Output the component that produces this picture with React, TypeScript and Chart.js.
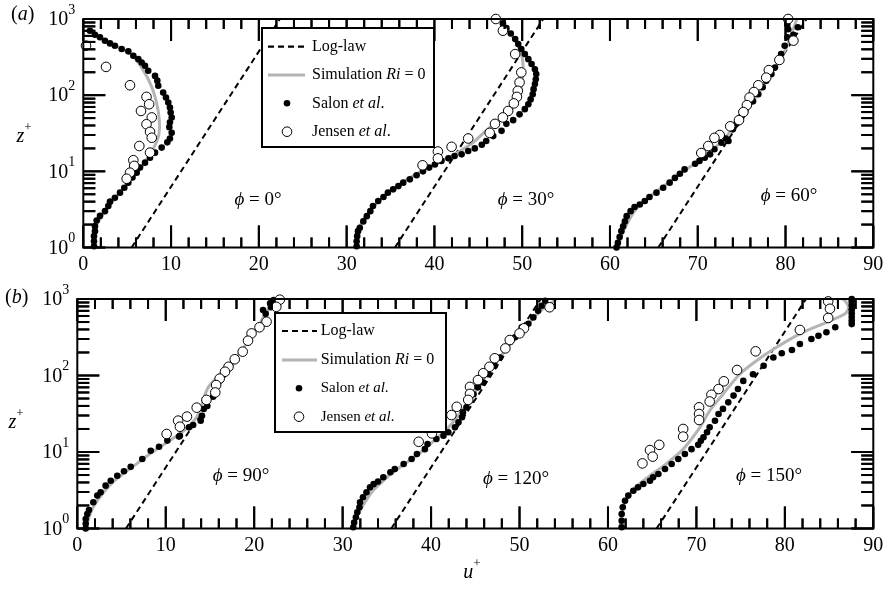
import React, { useEffect, useRef } from "react";
import { Chart, registerables } from "chart.js";
Chart.register(...registerables);

const FONT = '"Liberation Serif", "Times New Roman", serif';
const GRAY = "#b4b4b4";
const TICK_COLOR = "#000000";

// ---------- tick values ----------
const xMajorTicks = [0, 10, 20, 30, 40, 50, 60, 70, 80, 90];
const xMinorTicks = [2, 4, 6, 8, 12, 14, 16, 18, 22, 24, 26, 28, 32, 34, 36, 38, 42, 44, 46, 48, 52, 54, 56, 58, 62, 64, 66, 68, 72, 74, 76, 78, 82, 84, 86, 88];
const yDecadeExponents = [0, 1, 2, 3];
const yMinorMultipliers = [2, 3, 4, 5, 6, 7, 8, 9];

// ---------- log-law (straight line on semi-log axes) ----------
const logLawZ = [1, 1000];
const logLawU0 = [5.5, 22.4];
const logLawU30 = [35.5, 52.4];
const logLawU60 = [65.5, 82.4];

// ---------- panel (a), phi = 0 ----------
const a0SalonZ = [702, 620, 575, 518, 478, 445, 403, 376, 329, 297, 269, 243, 209, 179, 155, 133, 108, 93, 80, 69, 59, 51, 44, 38, 32, 27, 24, 20.5, 17.6, 15.1, 13, 11.2, 9.6, 8.3, 7.1, 6.1, 5.25, 4.5, 4.0, 3.5, 3.0, 2.6, 2.26, 1.9, 1.64, 1.41, 1.21, 1.04];
const a0SalonU = [0.76, 1.33, 1.9, 2.47, 3.04, 3.6, 4.37, 5.13, 5.7, 6.27, 6.65, 7.03, 7.4, 8.17, 8.43, 8.54, 9.1, 9.42, 9.68, 9.87, 9.95, 10.07, 9.87, 9.8, 10.07, 9.87, 9.57, 8.93, 8.17, 7.6, 7.03, 6.46, 6.08, 5.6, 5.13, 4.67, 4.18, 3.6, 3.04, 2.85, 2.47, 1.9, 1.52, 1.33, 1.33, 1.22, 1.22, 1.22];
const a0JensenZ = [446, 235, 135, 95, 76, 62, 51, 41.5, 33, 27.6, 21.5, 17.6, 14, 11.8, 9.6, 8.0];
const a0JensenU = [0.31, 2.59, 5.32, 7.2, 7.5, 6.57, 7.8, 7.2, 7.6, 7.8, 6.38, 7.6, 5.7, 5.8, 5.32, 4.94];
const a0SimZ = [1.0, 1.3, 1.8, 3, 5.3, 9.6, 13, 17, 22, 31, 47, 78, 129, 213, 320, 400, 480, 600, 700];
const a0SimU = [1.2, 1.25, 1.35, 2.5, 4.2, 6.1, 7.0, 7.6, 8.17, 8.62, 8.66, 8.36, 7.79, 6.83, 5.7, 4.5, 3.0, 1.6, 0.8];

// ---------- panel (a), phi = 30 ----------
const a30SalonZ = [1.04, 1.21, 1.41, 1.64, 1.82, 2.2, 2.58, 3.0, 3.5, 4.07, 4.6, 5.25, 5.8, 6.4, 7.1, 7.85, 8.9, 10, 11.2, 12.3, 13.7, 14.8, 15.9, 16.7, 18.5, 20, 22.3, 25, 29, 34, 42, 47, 56, 65.5, 76, 88, 103, 120, 140, 162, 189, 219, 257, 297, 346, 403, 468, 545, 646, 760, 875];
const a30SalonU = [31.14, 31.14, 31.2, 31.3, 31.5, 31.9, 32.3, 32.7, 33.0, 33.6, 34.2, 34.7, 35.3, 35.9, 36.45, 37.2, 37.97, 38.7, 39.4, 40.06, 40.8, 41.6, 42.3, 43.1, 43.85, 44.6, 45.4, 45.9, 46.7, 47.65, 48.2, 48.97, 49.7, 50.3, 50.7, 50.96, 51.2, 51.3, 51.45, 51.55, 51.6, 51.45, 51.07, 50.7, 50.3, 49.9, 49.55, 49.2, 48.7, 48.2, 47.8];
const a30JensenZ = [1000, 702, 346, 199, 147, 114, 95, 78, 62, 51, 42, 32, 27, 21, 18.2, 14.8, 12];
const a30JensenU = [47.0, 47.8, 49.2, 49.9, 49.7, 49.5, 49.4, 49.05, 48.4, 47.8, 46.9, 46.3, 43.85, 41.96, 40.4, 40.4, 38.65];
const a30SimZ = [1, 1.5, 2, 3, 5, 7, 10, 13, 16, 21, 25, 32, 40, 50, 70, 100, 150, 250, 350, 500, 700, 900];
const a30SimU = [31.1, 31.3, 31.6, 32.6, 34.5, 36.2, 38.5, 40.4, 42.0, 43.7, 44.6, 45.6, 46.6, 47.8, 49.0, 49.7, 50.0, 50.1, 49.9, 49.3, 48.5, 47.8];

// ---------- panel (a), phi = 60 ----------
const a60SalonZ = [1.0, 1.15, 1.37, 1.64, 1.9, 2.2, 2.58, 3.0, 3.4, 3.67, 4.07, 4.6, 5.25, 6.1, 7.1, 8.2, 9.3, 10.6, 12.6, 13.7, 15.1, 16.7, 19.5, 23.7, 25, 27, 35.6, 42, 53, 62, 72, 83, 103, 127, 155, 189, 230, 280, 346, 446, 575, 620, 733, 780, 850];
const a60SalonU = [60.75, 60.9, 61.1, 61.3, 61.5, 61.7, 61.9, 62.35, 62.8, 63.4, 63.97, 64.5, 65.3, 66.06, 66.8, 67.4, 67.96, 68.5, 69.7, 70.2, 70.8, 71.4, 71.9, 72.7, 73.5, 73.2, 74.0, 74.4, 75.0, 75.4, 75.7, 76.3, 76.9, 77.4, 77.8, 78.4, 78.8, 79.2, 79.5, 79.9, 80.2, 80.9, 80.3, 81.4, 80.2];
const a60JensenZ = [1000, 520, 290, 213, 170, 135, 110, 93, 74, 60, 47, 39, 30, 27.5, 21.5, 17.4];
const a60JensenU = [80.3, 80.9, 79.3, 78.1, 77.8, 76.9, 76.4, 75.9, 75.6, 75.2, 74.7, 73.7, 72.5, 71.9, 71.2, 70.4];
const a60SimZ = [1, 1.5, 2, 3, 4, 5, 7, 10, 15, 20, 30, 50, 100, 200, 400, 700, 1000];
const a60SimU = [60.9, 61.4, 61.9, 62.8, 63.8, 64.9, 66.6, 68.4, 70.6, 71.9, 73.4, 74.9, 76.8, 78.5, 80.0, 80.8, 81.3];

// ---------- panel (b), phi = 90 ----------
const b90SalonZ = [1.0, 1.15, 1.33, 1.55, 1.74, 2.2, 2.69, 2.97, 3.63, 4.2, 4.9, 5.6, 6.4, 8.1, 10.4, 11.7, 14.1, 15.9, 16.3, 21, 22.5, 25.7, 29.7, 36.5, 40, 52.7, 640, 718, 780, 876, 970];
const b90SalonU = [0.95, 0.95, 0.95, 1.13, 1.32, 1.81, 2.26, 2.64, 3.2, 3.78, 4.52, 5.28, 6.04, 7.35, 8.3, 9.24, 10.18, 11.5, 11.6, 12.63, 13.1, 13.95, 14.1, 14.3, 14.7, 15.35, 21.3, 21.0, 21.9, 21.8, 22.2];
const b90JensenZ = [980, 790, 505, 427, 355, 285, 205, 163, 130, 112, 91, 75, 60, 48, 38, 29, 25.7, 21.4, 17.2];
const b90JensenU = [22.9, 22.5, 21.4, 20.6, 19.7, 19.3, 18.7, 17.8, 17.1, 16.7, 16.1, 15.7, 15.6, 14.6, 13.5, 12.4, 11.4, 11.6, 10.1];
const b90SimZ = [1, 1.5, 2, 3, 4, 5, 7, 10, 15, 20, 30, 50, 70, 100, 200, 400, 700, 1000];
const b90SimU = [1.0, 1.4, 1.9, 3.0, 4.0, 5.0, 6.7, 8.5, 10.8, 12.3, 13.6, 14.3, 14.8, 16.0, 18.4, 20.2, 21.5, 22.3];

// ---------- panel (b), phi = 120 ----------
const b120SalonZ = [1.04, 1.2, 1.4, 1.63, 1.89, 2.2, 2.56, 2.97, 3.45, 3.8, 4.1, 4.67, 5.43, 6.0, 6.96, 8.1, 9.4, 10.9, 12.7, 14.8, 16.3, 18.1, 21, 24.5, 28.5, 33, 38.3, 46.8, 57, 70, 81, 104, 134, 172, 232, 316, 427, 473, 575, 700, 815, 950];
const b120SalonU = [31.2, 31.3, 31.5, 31.66, 31.9, 31.97, 32.3, 32.7, 33.1, 33.5, 34.0, 34.6, 35.4, 35.9, 36.9, 37.8, 38.4, 39.3, 39.6, 40.6, 41.4, 41.95, 42.7, 43.1, 43.5, 43.6, 44.0, 44.4, 44.8, 45.3, 45.9, 46.5, 47.2, 47.8, 48.55, 49.5, 50.25, 51.0, 51.56, 52.1, 52.5, 52.9];
const b120JensenZ = [780, 414, 355, 291, 226, 168, 130, 107, 87, 71, 57.5, 48, 39, 30.4, 17.5, 13.6];
const b120JensenU = [53.4, 50.5, 50.0, 48.9, 48.4, 47.2, 46.6, 45.9, 45.3, 44.4, 44.4, 44.2, 42.9, 42.3, 40.1, 38.6];
const b120SimZ = [1, 1.5, 2, 3, 4, 5, 7, 10, 15, 20, 30, 50, 70, 100, 200, 400, 700, 1000];
const b120SimU = [31.2, 31.7, 32.3, 33.3, 34.4, 35.3, 37.0, 38.9, 40.6, 41.8, 43.1, 44.5, 45.3, 46.2, 48.2, 50.4, 52.4, 54.2];

// ---------- panel (b), phi = 150 ----------
const b150SalonZ = [1.04, 1.26, 1.55, 1.89, 2.31, 2.69, 3.12, 3.45, 3.82, 4.2, 4.67, 5.15, 6.0, 6.96, 8.1, 9.4, 10.9, 12.4, 14, 15.6, 18.1, 21, 25.6, 31.4, 36.6, 44.6, 54.6, 66.5, 85, 104, 134, 172, 195, 215, 258, 300, 330, 367, 427, 470, 520, 580, 650, 730, 820, 920, 1000];
const b150SalonU = [61.55, 61.55, 61.55, 61.67, 61.93, 62.3, 62.87, 63.4, 64.0, 64.75, 65.1, 65.7, 66.45, 67.2, 67.95, 68.7, 69.45, 70.2, 70.5, 70.8, 71.2, 71.5, 72.1, 72.5, 73.0, 73.6, 74.2, 74.7, 75.3, 76.4, 77.6, 78.7, 79.65, 80.8, 81.7, 83.0, 83.8, 84.7, 85.7, 87.56, 87.56, 87.56, 87.56, 87.56, 87.56, 87.56, 87.56];
const b150JensenZ = [930, 745, 565, 394, 207, 118, 84, 66.5, 56, 45.7, 38.4, 31.4, 26.2, 20, 15.9, 12.4, 10.6, 8.7, 7.1];
const b150JensenU = [84.9, 85.1, 84.9, 81.7, 76.7, 74.6, 73.1, 72.5, 71.7, 71.5, 70.3, 70.3, 70.3, 68.5, 68.5, 65.8, 64.75, 65.06, 63.9];
const b150SimZ = [1.0, 1.15, 1.9, 3.1, 4.9, 7, 10.9, 21, 34.6, 57, 104, 156, 220, 350, 495, 640, 780, 950, 1000];
const b150SimU = [61.3, 61.4, 61.7, 62.7, 64.75, 66.6, 68.5, 70.4, 71.5, 73.0, 74.9, 76.8, 78.7, 81.7, 84.7, 86.8, 87.2, 86.8, 86.5];

// ---------- text ----------
const phiLabelsA = ["0°", "30°", "60°"];
const phiLabelsB = ["90°", "120°", "150°"];

type Run = { t: string; it?: boolean; sup?: boolean; size?: number };

const pts = (u: number[], z: number[]) => u.map((v, i) => ({ x: v, y: z[i] }));

function fontOf(r: Run, size: number) {
  const s = r.size ?? (r.sup ? Math.round(size * 0.68) : size);
  return `${r.it ? "italic " : ""}${s}px ${FONT}`;
}

function drawRuns(ctx: CanvasRenderingContext2D, runs: Run[], x: number, y: number, size: number, align: "left" | "center" | "right" = "left") {
  ctx.textBaseline = "middle";
  ctx.textAlign = "left";
  let total = 0;
  const ws = runs.map((r) => {
    ctx.font = fontOf(r, size);
    const w = ctx.measureText(r.t).width;
    total += w;
    return w;
  });
  let cx = align === "center" ? x - total / 2 : align === "right" ? x - total : x;
  runs.forEach((r, i) => {
    ctx.font = fontOf(r, size);
    ctx.fillText(r.t, cx, r.sup ? y - size * 0.45 : y);
    cx += ws[i];
  });
}

function buildDatasets(profiles: { salon: any[]; jensen: any[]; sim: any[]; log: any[] }[]) {
  const ds: any[] = [];
  profiles.forEach((p) => {
    ds.push({ data: p.jensen, showLine: false, pointRadius: 4.8, pointBackgroundColor: "#fff", pointBorderColor: "#000", pointBorderWidth: 1, order: 0, clip: false });
    ds.push({ data: p.salon, showLine: false, pointRadius: 3.3, pointBackgroundColor: "#000", pointBorderColor: "#000", pointBorderWidth: 0, order: 1, clip: false });
    ds.push({ data: p.sim, showLine: true, pointRadius: 0, borderColor: GRAY, borderWidth: 3, tension: 0.3, order: 2 });
    ds.push({ data: p.log, showLine: true, pointRadius: 0, borderColor: "#000", borderWidth: 2, borderDash: [6, 4], order: 3 });
  });
  return ds;
}

type PanelCfg = {
  letter: string;
  canvasTop: number;
  height: number;
  pad: { left: number; right: number; top: number; bottom: number };
  legend: { x: number; y: number; w: number; h: number; rows: number[]; s1: number; s2: number; mx: number; tx: number; small: number };
  phi: { text: string; x: number; y: number }[];
  letterPos: { x: number; y: number };
  zPos: { x: number; y: number };
  showU: boolean;
  uPos: { x: number; y: number };
  datasets: any[];
};

function drawTicks(chart: any) {
  const ctx: CanvasRenderingContext2D = chart.ctx;
  const a = chart.chartArea;
  const xs = chart.scales.x;
  const ys = chart.scales.y;
  ctx.save();
  ctx.globalAlpha = 1;
  ctx.globalCompositeOperation = "source-over";
  ctx.fillStyle = TICK_COLOR;
  xMajorTicks.forEach((v) => {
    const px = xs.getPixelForValue(v);
    ctx.fillRect(px - 1, a.bottom - 22, 2, 22);
    ctx.fillRect(px - 1, a.top, 2, 22);
  });
  xMinorTicks.forEach((v) => {
    const px = xs.getPixelForValue(v);
    ctx.fillRect(px - 1, a.bottom - 10, 2, 10);
    ctx.fillRect(px - 1, a.top, 2, 10);
  });
  yDecadeExponents.forEach((e) => {
    const py = ys.getPixelForValue(Math.pow(10, e));
    ctx.fillRect(a.left, py - 1, 22, 2);
    ctx.fillRect(a.right - 22, py - 1, 22, 2);
    if (e < 3) {
      yMinorMultipliers.forEach((m) => {
        const pm = ys.getPixelForValue(m * Math.pow(10, e));
        ctx.fillRect(a.left, pm - 1, 12, 2);
        ctx.fillRect(a.right - 12, pm - 1, 12, 2);
      });
    }
  });
  ctx.restore();
}

function drawFrame(chart: any, cfg: PanelCfg) {
  const ctx: CanvasRenderingContext2D = chart.ctx;
  const a = chart.chartArea;
  const xs = chart.scales.x;
  const ys = chart.scales.y;
  drawTicks(chart);
  ctx.save();
  ctx.strokeStyle = "#000";
  ctx.lineWidth = 2;
  ctx.strokeRect(a.left, a.top, a.right - a.left, a.bottom - a.top);

  ctx.fillStyle = "#000";
  xMajorTicks.forEach((v) => {
    drawRuns(ctx, [{ t: String(v) }], xs.getPixelForValue(v), a.bottom + 17, 20, "center");
  });
  yDecadeExponents.forEach((e) => {
    const py = ys.getPixelForValue(Math.pow(10, e));
    ctx.textBaseline = "middle";
    ctx.font = `14px ${FONT}`;
    const we = ctx.measureText(String(e)).width;
    ctx.textAlign = "right";
    ctx.fillText(String(e), a.left - 8, py - 9);
    ctx.font = `20px ${FONT}`;
    ctx.fillText("10", a.left - 8 - we, py + 1);
  });
  drawRuns(ctx, [{ t: "z", it: true }, { t: "+", sup: true, size: 13 }], cfg.zPos.x, cfg.zPos.y, 20, "center");
  if (cfg.showU) drawRuns(ctx, [{ t: "u", it: true }, { t: "+", sup: true, size: 13 }], cfg.uPos.x, cfg.uPos.y, 20, "center");
  drawRuns(ctx, [{ t: "(" }, { t: cfg.letter, it: true }, { t: ")" }], cfg.letterPos.x, cfg.letterPos.y, 20, "left");
  ctx.restore();
}

function drawLegend(chart: any, cfg: PanelCfg) {
  const ctx: CanvasRenderingContext2D = chart.ctx;
  ctx.save();
  ctx.fillStyle = "#000";
  cfg.phi.forEach((p) => {
    drawRuns(ctx, [{ t: "ϕ", it: true }, { t: " = " + p.text }], p.x, p.y, 19, "center");
  });
  const L = cfg.legend;
  ctx.fillStyle = "#fff";
  ctx.fillRect(L.x, L.y, L.w, L.h);
  ctx.strokeStyle = "#000";
  ctx.lineWidth = 2;
  ctx.strokeRect(L.x, L.y, L.w, L.h);
  ctx.lineWidth = 2.2;
  ctx.setLineDash([6, 4]);
  ctx.beginPath();
  ctx.moveTo(L.s1, L.rows[0]);
  ctx.lineTo(L.s2, L.rows[0]);
  ctx.stroke();
  ctx.setLineDash([]);
  ctx.strokeStyle = GRAY;
  ctx.lineWidth = 3;
  ctx.beginPath();
  ctx.moveTo(L.s1, L.rows[1]);
  ctx.lineTo(L.s2, L.rows[1]);
  ctx.stroke();
  ctx.fillStyle = "#000";
  ctx.beginPath();
  ctx.arc(L.mx, L.rows[2], 3.3, 0, Math.PI * 2);
  ctx.fill();
  ctx.fillStyle = "#fff";
  ctx.strokeStyle = "#000";
  ctx.lineWidth = 1;
  ctx.beginPath();
  ctx.arc(L.mx, L.rows[3], 4.8, 0, Math.PI * 2);
  ctx.fill();
  ctx.stroke();
  ctx.fillStyle = "#000";
  drawRuns(ctx, [{ t: "Log-law" }], L.tx, L.rows[0], 16);
  drawRuns(ctx, [{ t: "Simulation " }, { t: "Ri", it: true }, { t: " = 0" }], L.tx, L.rows[1], 16);
  drawRuns(ctx, [{ t: "Salon " }, { t: "et al", it: true }, { t: "." }], L.tx, L.rows[2], L.small);
  drawRuns(ctx, [{ t: "Jensen " }, { t: "et al", it: true }, { t: "." }], L.tx, L.rows[3], L.small);
  ctx.restore();
}

function makePlugin(cfg: PanelCfg) {
  return {
    id: "decor" + cfg.letter,
    afterDatasetsDraw(chart: any) {
      drawTicks(chart);
    },
    afterDraw(chart: any) {
      drawFrame(chart, cfg);
      drawLegend(chart, cfg);
    },
  };
}

const panelA: PanelCfg = {
  letter: "a",
  canvasTop: 0,
  height: 280,
  pad: { left: 83.3, right: 17.7, top: 19, bottom: 32.5 },
  legend: { x: 262, y: 28, w: 172, h: 119, rows: [46.7, 75, 103.3, 131.7], s1: 268, s2: 305, mx: 287, tx: 312, small: 16 },
  phi: [
    { text: phiLabelsA[0], x: 258, y: 200 },
    { text: phiLabelsA[1], x: 526, y: 200 },
    { text: phiLabelsA[2], x: 789, y: 196 },
  ],
  letterPos: { x: 11, y: 15 },
  zPos: { x: 24, y: 137 },
  showU: false,
  uPos: { x: 0, y: 0 },
  datasets: buildDatasets([
    { salon: pts(a0SalonU, a0SalonZ), jensen: pts(a0JensenU, a0JensenZ), sim: pts(a0SimU, a0SimZ), log: pts(logLawU0, logLawZ) },
    { salon: pts(a30SalonU, a30SalonZ), jensen: pts(a30JensenU, a30JensenZ), sim: pts(a30SimU, a30SimZ), log: pts(logLawU30, logLawZ) },
    { salon: pts(a60SalonU, a60SalonZ), jensen: pts(a60JensenU, a60JensenZ), sim: pts(a60SimU, a60SimZ), log: pts(logLawU60, logLawZ) },
  ]),
};

const panelB: PanelCfg = {
  letter: "b",
  canvasTop: 280,
  height: 309,
  pad: { left: 77.3, right: 17.7, top: 19, bottom: 60.5 },
  legend: { x: 275, y: 33, w: 171, h: 119, rows: [51, 80, 108.3, 136.7], s1: 282, s2: 317, mx: 299, tx: 320.7, small: 15 },
  phi: [
    { text: phiLabelsB[0], x: 241, y: 196 },
    { text: phiLabelsB[1], x: 516, y: 199 },
    { text: phiLabelsB[2], x: 769, y: 196 },
  ],
  letterPos: { x: 5, y: 18 },
  zPos: { x: 16, y: 143 },
  showU: true,
  uPos: { x: 472, y: 293 },
  datasets: buildDatasets([
    { salon: pts(b90SalonU, b90SalonZ), jensen: pts(b90JensenU, b90JensenZ), sim: pts(b90SimU, b90SimZ), log: pts(logLawU0, logLawZ) },
    { salon: pts(b120SalonU, b120SalonZ), jensen: pts(b120JensenU, b120JensenZ), sim: pts(b120SimU, b120SimZ), log: pts(logLawU30, logLawZ) },
    { salon: pts(b150SalonU, b150SalonZ), jensen: pts(b150JensenU, b150JensenZ), sim: pts(b150SimU, b150SimZ), log: pts(logLawU60, logLawZ) },
  ]),
};

function Panel({ cfg }: { cfg: PanelCfg }) {
  const ref = useRef<HTMLCanvasElement | null>(null);
  useEffect(() => {
    if (!ref.current) return;
    const chart = new Chart(ref.current, {
      type: "scatter",
      data: { datasets: cfg.datasets },
      options: {
        animation: false,
        responsive: false,
        events: [],
        layout: { padding: cfg.pad },
        plugins: { legend: { display: false }, tooltip: { enabled: false } },
        scales: {
          x: { type: "linear", min: 0, max: 90, display: false },
          y: { type: "logarithmic", min: 1, max: 1000, display: false },
        },
      },
      plugins: [makePlugin(cfg)],
    } as any);
    return () => chart.destroy();
  }, []);
  return (
    <canvas
      ref={ref}
      width={891}
      height={cfg.height}
      style={{ position: "absolute", left: 0, top: cfg.canvasTop, width: 891, height: cfg.height }}
    />
  );
}

export default function App() {
  return (
    <div style={{ position: "absolute", left: 0, top: 0, width: 891, height: 589, background: "#fff" }}>
      <Panel cfg={panelA} />
      <Panel cfg={panelB} />
    </div>
  );
}
